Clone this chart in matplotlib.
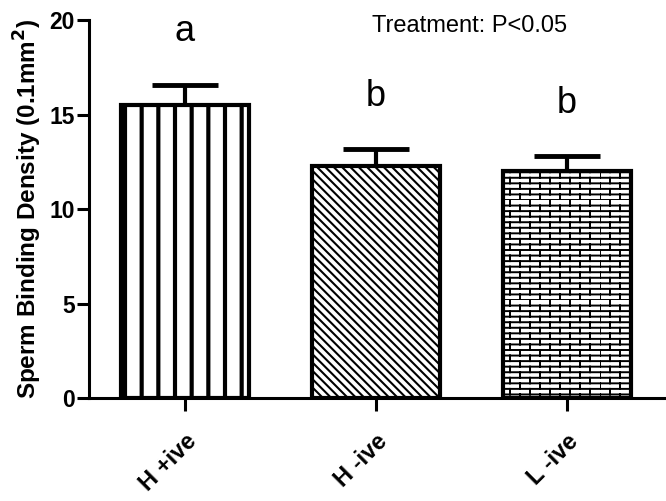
import warnings
import numpy as np
import matplotlib
matplotlib.use("Agg")
import matplotlib.pyplot as plt
from matplotlib import hatch as mhatch
from matplotlib.path import Path

warnings.filterwarnings("ignore")

# ---- data ----
categories = ["H +ive", "H -ive", "L -ive"]
means = [15.5, 12.25, 12.0]
sem = [1.08, 0.9, 0.8]
letters = ["a", "b", "b"]
yticks = [0, 5, 10, 15, 20]
annotation = "Treatment: P<0.05"


# custom brick hatch pattern (triggered by 'b' in hatch string)
class BrickHatch(mhatch.HatchPatternBase):
    def __init__(self, hatch, density):
        n = hatch.count('b')
        self.rows = 18 * n if n else 0
        self.cols = 5
        if self.rows:
            self.num_vertices = self.rows * 2 + self.rows * self.cols * 2
        else:
            self.num_vertices = 0

    def set_vertices_and_codes(self, vertices, codes):
        k = 0
        for i in range(self.rows):
            y = i / self.rows
            vertices[k] = (0, y); codes[k] = Path.MOVETO; k += 1
            vertices[k] = (1, y); codes[k] = Path.LINETO; k += 1
        for i in range(self.rows):
            y0 = i / self.rows
            y1 = (i + 1) / self.rows
            off = 0.0 if i % 2 == 0 else 0.5 / self.cols
            for j in range(self.cols):
                x = off + j / self.cols
                vertices[k] = (x, y0); codes[k] = Path.MOVETO; k += 1
                vertices[k] = (x, y1); codes[k] = Path.LINETO; k += 1


mhatch._hatch_types.append(BrickHatch)

plt.rcParams['font.family'] = ['Liberation Sans', 'DejaVu Sans']

fig = plt.figure(figsize=(6.66, 5.01), dpi=100)
ax = fig.add_axes([0.1336, 0.2056, 0.8664, 0.7544])

x = np.arange(len(categories))
hatches = ['|', '\\\\\\\\', 'b']
hlw = [3.0, 1.5, 1.4]
for i in range(len(categories)):
    plt.rcParams['hatch.linewidth'] = hlw[i]
    b = ax.bar(x[i], means[i], width=0.67, color='white', edgecolor='black',
               linewidth=3.0, hatch=hatches[i], zorder=2)
    for p in b:
        try:
            p.set_hatch_linewidth(hlw[i])
        except Exception:
            pass

ax.errorbar(x, means, yerr=[np.zeros(len(sem)), sem], fmt='none', ecolor='black',
            elinewidth=3, capsize=24, capthick=3.5, zorder=1)

for i, t in enumerate(letters):
    ax.text(x[i], means[i] + sem[i] + 2.8, t, ha='center', va='center', fontsize=26)

ax.text(0.98, 19.7, annotation, ha='left', va='center', fontsize=17)

ax.set_xlim(-0.5, 2.52)
ax.set_ylim(0, 20)
ax.set_yticks(yticks)
ax.set_xticks(x)
ax.set_xticklabels(categories, rotation=45, ha='right', rotation_mode='anchor',
                   fontsize=17, fontweight='bold')
for lab in ax.get_yticklabels():
    lab.set_fontsize(16.5)
    lab.set_fontweight('bold')
ax.set_ylabel("Sperm Binding Density (0.1mm$^{\\mathbf{2}}$)", fontsize=17.5,
              fontweight='bold', labelpad=4)

for s in ['top', 'right']:
    ax.spines[s].set_visible(False)
for s in ['left', 'bottom']:
    ax.spines[s].set_linewidth(2.2)
ax.tick_params(axis='both', width=2.2, length=9, pad=1)
ax.tick_params(axis='x', length=9, pad=14)

fig.savefig("out.png", dpi=100)
